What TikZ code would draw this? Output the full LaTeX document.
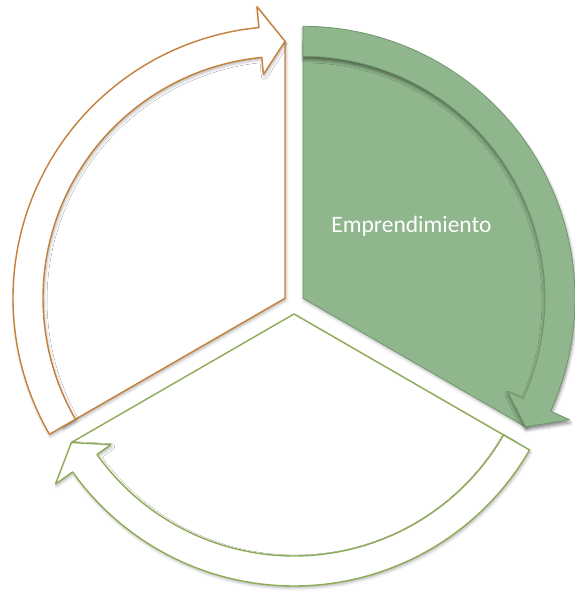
\documentclass[tikz,border=0pt]{standalone}
\usepackage{fontspec}
\setmainfont{Carlito}
\usetikzlibrary{shadows.blur}

\definecolor{segGreen}{RGB}{143,182,140}
\definecolor{segGreenLine}{RGB}{112,150,108}
\definecolor{segOrange}{RGB}{196,128,58}
\definecolor{segOlive}{RGB}{141,170,84}

\tikzset{
  greenpart/.style={fill=segGreen, draw=segGreenLine, line width=0.8pt},
  orangepart/.style={fill=white, draw=segOrange, line width=1.4pt},
  olivepart/.style={fill=white, draw=segOlive, line width=1.4pt},
  softshadow/.style={blur shadow={shadow xshift=1pt, shadow yshift=-2pt, shadow blur radius=3pt, shadow opacity=30}},
  darkshadow/.style={blur shadow={shadow xshift=0.5pt, shadow yshift=-3pt, shadow blur radius=3.5pt, shadow opacity=50}}
}

\begin{document}
\begin{tikzpicture}[x=1pt, y=1pt, line join=round]
  \useasboundingbox (0,0) rectangle (575,592);

  % Orange segment (left)
  \begin{scope}[shift={(285,293.7)}]
    \draw[orangepart, softshadow] (0,0) -- (210:257) arc[start angle=210, end angle=90, radius=257] -- cycle;
    \draw[orangepart, softshadow] (210:272) arc[start angle=210, end angle=95.5, radius=272] -- (95.5:293) -- (90:257) -- (95.5:225) -- (95.5:242) arc[start angle=95.5, end angle=210, radius=242] -- cycle;
  \end{scope}

  % Olive segment (bottom)
  \begin{scope}[shift={(294,278)}]
    \draw[olivepart, softshadow] (0,0) -- (330:257) arc[start angle=330, end angle=210, radius=257] -- cycle;
    \draw[olivepart, softshadow] (330:272) arc[start angle=330, end angle=215.5, radius=272] -- (215.5:293) -- (210:257) -- (215.5:225) -- (215.5:242) arc[start angle=215.5, end angle=330, radius=242] -- cycle;
  \end{scope}

  % Green segment (top right)
  \begin{scope}[shift={(303,293.7)}]
    \draw[greenpart, softshadow] (0,0) -- (90:257) arc[start angle=90, end angle=-30, radius=257] -- cycle;
    \draw[greenpart, darkshadow] (90:272) arc[start angle=90, end angle=-24.5, radius=272] -- (-24.5:293) -- (-30:257) -- (-24.5:225) -- (-24.5:242) arc[start angle=-24.5, end angle=90, radius=242] -- cycle;
  \end{scope}

  % Label
  \node[text=white, font=\fontsize{23.5}{28}\selectfont, anchor=base, inner sep=0pt] (emprend) at (411.5,359) {Emprendimiento};
\end{tikzpicture}
\end{document}
